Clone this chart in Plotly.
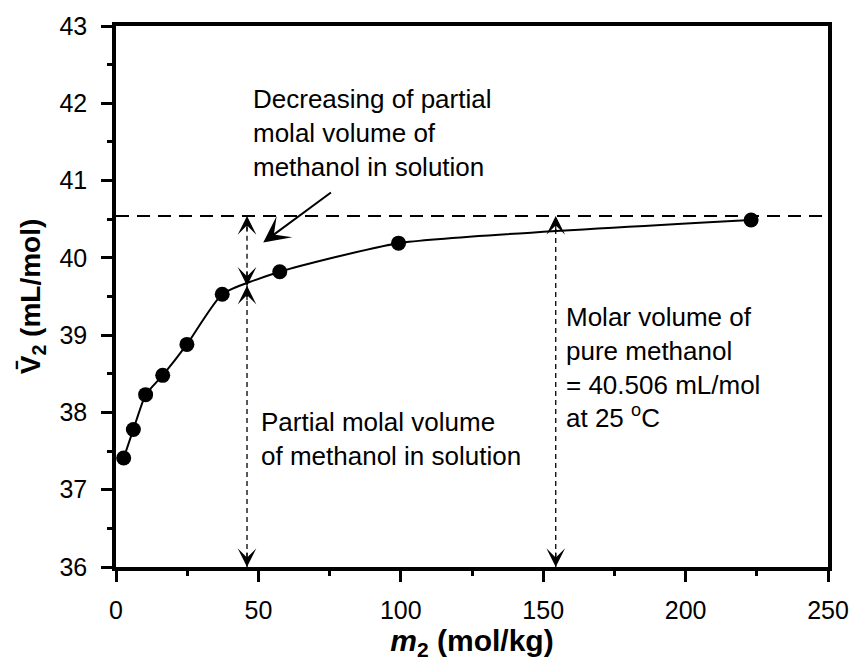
import plotly.graph_objects as go

# Data
m2 = [2.7, 6.1, 10.4, 16.4, 24.9, 37.3, 57.5, 99.2, 223.0]
V2 = [37.41, 37.78, 38.23, 38.48, 38.88, 39.53, 39.82, 40.19, 40.49]

pure_V = 40.54          # dashed reference line (molar volume of pure methanol)
x_arrow1 = 46.0         # left double arrows
y_curve1 = 39.64        # curve value at x_arrow1
x_arrow2 = 154.4        # right double arrow
y_min = 36.0

FONT = "Liberation Sans, Arial, sans-serif"

fig = go.Figure()

fig.add_trace(go.Scatter(
    x=m2, y=V2, mode="lines+markers",
    line=dict(color="black", width=2, shape="spline", smoothing=0.5),
    marker=dict(color="black", size=15),
    showlegend=False, cliponaxis=False,
))

shapes = []
# horizontal dashed line
shapes.append(dict(type="line", xref="x", yref="y", x0=0, x1=250, y0=pure_V, y1=pure_V,
                   line=dict(color="black", width=2, dash="13px,8px")))
# vertical dashed lines
for (xx, ya, yb) in [(x_arrow1, y_curve1, pure_V), (x_arrow1, y_min, y_curve1), (x_arrow2, y_min, pure_V)]:
    shapes.append(dict(type="line", xref="x", yref="y", x0=xx, x1=xx, y0=ya, y1=yb,
                       line=dict(color="black", width=1.3, dash="5px,4px")))

annotations = []
def head(x, y, up):
    annotations.append(dict(x=x, y=y, xref="x", yref="y", text="", showarrow=True,
                            ax=0, ay=(16 if up else -16), arrowhead=3, arrowsize=2.6,
                            arrowwidth=1.2, arrowcolor="black"))
head(x_arrow1, pure_V, True)
head(x_arrow1, y_curve1, False)
head(x_arrow1, y_curve1, True)
head(x_arrow1, y_min, False)
head(x_arrow2, pure_V, True)
head(x_arrow2, y_min, False)

# diagonal solid arrow
annotations.append(dict(x=51.7, y=40.20, ax=76.0, ay=40.86, xref="x", yref="y",
                        axref="x", ayref="y", text="", showarrow=True,
                        arrowhead=3, arrowsize=2.2, arrowwidth=2, arrowcolor="black"))

tfont = dict(family=FONT, size=26, color="black")
annotations.append(dict(x=47.3, y=41.62, xref="x", yref="y", xanchor="left", yanchor="middle",
                        align="left", showarrow=False, font=tfont,
                        text="Decreasing of partial<br>molal volume of<br>methanol in solution"))
annotations.append(dict(x=50.2, y=37.66, xref="x", yref="y", xanchor="left", yanchor="middle",
                        align="left", showarrow=False, font=tfont,
                        text="Partial molal volume<br>of methanol in solution"))
annotations.append(dict(x=157.3, y=38.58, xref="x", yref="y", xanchor="left", yanchor="middle",
                        align="left", showarrow=False, font=tfont,
                        text="Molar volume of<br>pure methanol<br>= 40.506 mL/mol<br>at 25 <sup>o</sup>C"))

fig.update_layout(
    width=861, height=663,
    margin=dict(l=116, r=25, t=25, b=92),
    paper_bgcolor="white", plot_bgcolor="white",
    font=dict(family=FONT, color="black"),
    shapes=shapes, annotations=annotations,
    xaxis=dict(range=[0, 250], tickvals=[0, 50, 100, 150, 200, 250],
               showline=True, linewidth=3.5, linecolor="black", mirror=True,
               ticks="outside", ticklen=11, tickwidth=3, tickcolor="black",
               minor=dict(dtick=25, tick0=0, ticks="outside", ticklen=5, tickwidth=3, tickcolor="black"),
               showgrid=False, zeroline=False, ticklabelstandoff=7,
               tickfont=dict(family=FONT, size=25, color="black"),
               title=dict(text="<b><i>m</i><sub>2</sub> (mol/kg)</b>", standoff=6,
                          font=dict(family=FONT, size=30, color="black"))),
    yaxis=dict(range=[36, 43], tickvals=[36, 37, 38, 39, 40, 41, 42, 43],
               showline=True, linewidth=3.5, linecolor="black", mirror=True,
               ticks="outside", ticklen=11, tickwidth=3, tickcolor="black",
               minor=dict(dtick=0.5, tick0=36, ticks="outside", ticklen=5, tickwidth=3, tickcolor="black"),
               showgrid=False, zeroline=False, ticklabelstandoff=9,
               tickfont=dict(family=FONT, size=25, color="black"),
               title=dict(text="<b>V\u0304<sub>2</sub> (mL/mol)</b>", standoff=12,
                          font=dict(family=FONT, size=28, color="black"))),
)

fig.write_html("out.html")
